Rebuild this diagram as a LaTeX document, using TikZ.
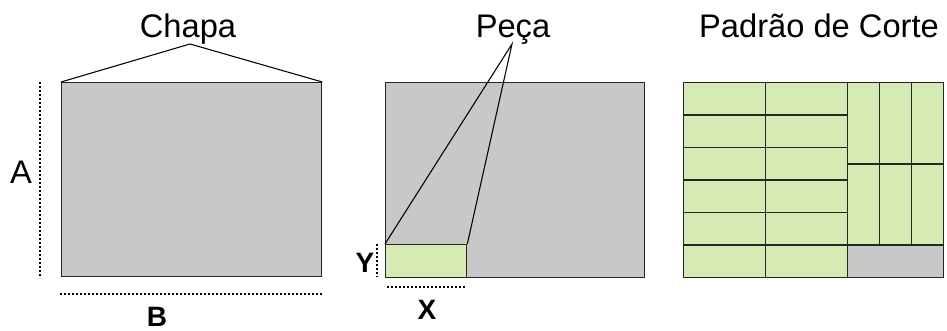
\documentclass[tikz,border=0pt]{standalone}
\usepackage{fontspec}
\setmainfont{Liberation Sans}
\usetikzlibrary{positioning}
\definecolor{sheetgray}{RGB}{200,200,200}
\definecolor{piecegreen}{RGB}{214,234,180}
\newcommand{\pxu}{0.75pt}

\begin{document}
\begin{tikzpicture}[
    x=0.75pt, y=-0.75pt,
    sheet/.style={draw=black!85, line width=1pt, fill=sheetgray, inner sep=0pt, anchor=north west},
    piece/.style={draw=black!85, line width=1pt, fill=piecegreen, inner sep=0pt, anchor=north west},
    title/.style={font=\fontsize{24.5}{28}\selectfont, anchor=base, inner sep=0pt},
    dimlbl/.style={font=\fontsize{21}{25}\selectfont\bfseries, inner sep=0pt},
    dimline/.style={line width=0.8pt, dash pattern=on 1.5pt off 1.5pt},
    leader/.style={line width=0.8pt}
  ]
  \useasboundingbox (0,0) rectangle (947,331);

  % chapa
  \node[sheet, minimum width=260*\pxu, minimum height=194*\pxu] (chapa) at (61,82) {};
  \node[title] (chapaT) at (188,38) {Chapa};
  \coordinate (chapaTip) at (190,44);
  \draw[leader] (chapa.north west) -- (chapaTip) -- (chapa.north east);
  \coordinate (aTop) at (40,82);
  \coordinate (aBot) at (40,276);
  \draw[dimline] (aTop) -- (aBot);
  \node[font=\fontsize{24.5}{28}\selectfont, inner sep=0pt] (lblA) at (21,172) {A};
  \coordinate (bLeft) at (60,294);
  \coordinate (bRight) at (322,294);
  \draw[dimline] (bLeft) -- (bRight);
  \node[dimlbl] (lblB) at (157,316.5) {B};

  % peca
  \node[sheet, minimum width=259*\pxu, minimum height=195*\pxu] (placa) at (385,82) {};
  \node[piece, minimum width=81*\pxu, minimum height=33*\pxu] (peca) at (385,244) {};
  \node[title] (pecaT) at (513,38) {Peça};
  \coordinate (pecaTip) at (512,44);
  \draw[leader] (peca.north west) -- (pecaTip) -- (peca.north east);
  \coordinate (yTop) at (377,244);
  \coordinate (yBot) at (377,277);
  \draw[dimline] (yTop) -- (yBot);
  \node[dimlbl] (lblY) at (365,263) {Y};
  \coordinate (xLeft) at (387,287);
  \coordinate (xRight) at (465,287);
  \draw[dimline] (xLeft) -- (xRight);
  \node[dimlbl] (lblX) at (427,310) {X};

  % padrao de corte
  \node[title] (padraoT) at (819,38) {Padrão de Corte};
  \foreach \r in {0,...,5}
    \foreach \c in {0,1}
      \node[piece, minimum width=82*\pxu, minimum height=32.5*\pxu] (p-\r-\c) at (683+82*\c, 82+32.5*\r) {};
  \foreach \r in {0,1}
    \foreach \c in {0,1,2}
      \node[piece, minimum width=32*\pxu, minimum height=81.25*\pxu] (q-\r-\c) at (847+32*\c, 82+81.25*\r) {};
  \node[sheet, minimum width=96*\pxu, minimum height=32.5*\pxu] (sobra) at (847,244.5) {};
\end{tikzpicture}
\end{document}
